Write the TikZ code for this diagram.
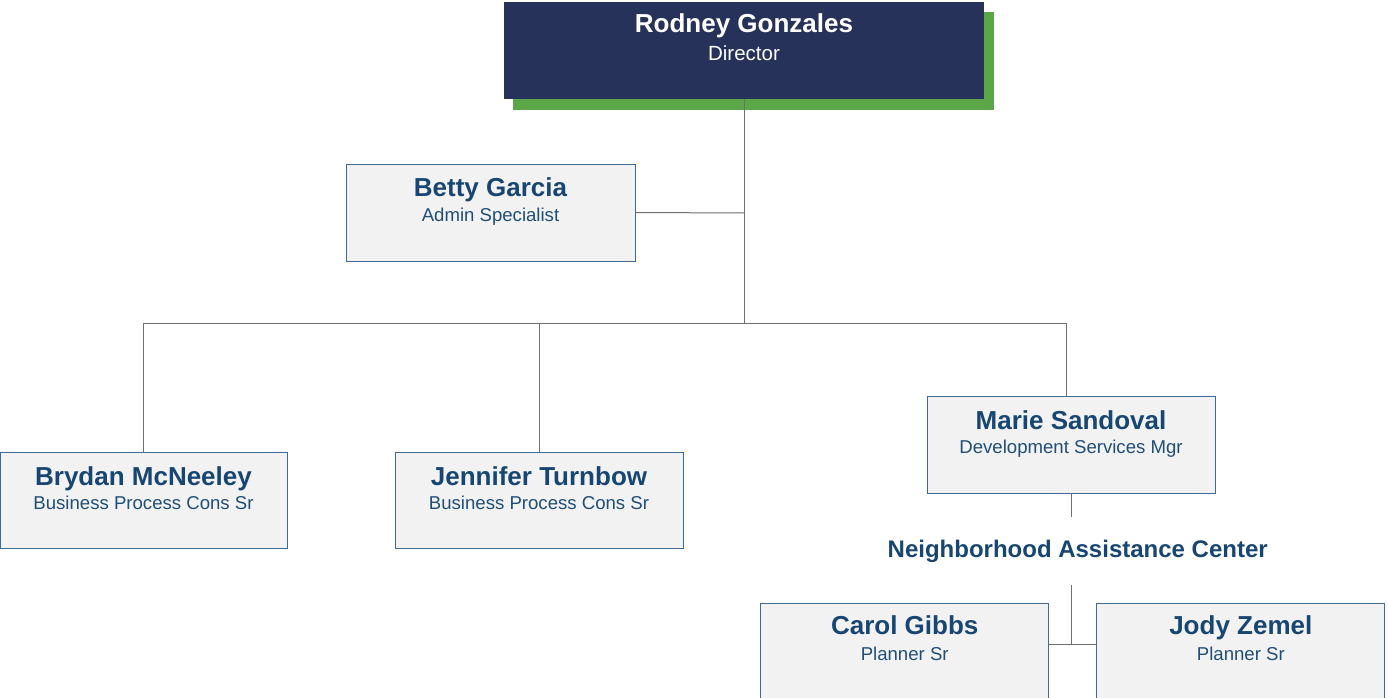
\documentclass[tikz,border=0pt]{standalone}
\usepackage{fontspec}
\setmainfont{Liberation Sans}
\definecolor{navy}{RGB}{39,50,90}
\definecolor{grn}{RGB}{91,166,70}
\definecolor{boxline}{RGB}{65,105,150}
\definecolor{boxfill}{RGB}{242,242,242}
\definecolor{nametxt}{RGB}{23,70,115}
\definecolor{subtxt}{RGB}{31,78,121}
\definecolor{conn}{RGB}{110,110,110}
\begin{document}
\begin{tikzpicture}[x=1pt,y=-1pt,
  card/.style={draw=boxline, fill=boxfill, line width=1pt, minimum width=288pt, minimum height=96pt, inner sep=0pt, outer sep=0pt},
  nm/.style={anchor=base, font=\fontsize{26}{28}\selectfont\bfseries, text=nametxt, inner sep=0pt},
  ttl/.style={anchor=base, font=\fontsize{18.6}{20}\selectfont, text=subtxt, inner sep=0pt},
  link/.style={draw=conn, line width=1pt}]
\useasboundingbox (0,0) rectangle (1388,698);
% top box
\node[fill=grn, minimum width=481pt, minimum height=98pt, inner sep=0pt] (shadow) at (753.5,61) {};
\node[fill=navy, minimum width=480pt, minimum height=97pt, inner sep=0pt] (rodney) at (744,50.5) {};
\node[nm, text=white] (rodneyN) at ([yshift=-31pt]rodney.north) {Rodney Gonzales};
\node[ttl, text=white, font=\fontsize{20.5}{22}\selectfont] (rodneyT) at ([yshift=-59pt]rodney.north) {Director};
% cards
\node[card, minimum width=289pt, minimum height=97pt] (betty) at (490.5,212.5) {};
\node[card, minimum width=287pt] (brydan) at (143.5,500.5) {};
\node[card] (jennifer) at (539,500) {};
\node[card, minimum height=97pt] (marie) at (1071,444.5) {};
\node[card] (carol) at (904.7,651) {};
\node[card] (jody) at (1240.8,651) {};
\node[nm] (bettyN) at ([yshift=-32.5pt]betty.north) {Betty Garcia};
\node[ttl] (bettyT) at ([yshift=-57.5pt]betty.north) {Admin Specialist};
\node[nm] (brydanN) at ([yshift=-33pt]brydan.north) {Brydan McNeeley};
\node[ttl] (brydanT) at ([yshift=-57pt]brydan.north) {Business Process Cons Sr};
\node[nm] (jenniferN) at ([yshift=-33pt]jennifer.north) {Jennifer Turnbow};
\node[ttl] (jenniferT) at ([yshift=-57pt]jennifer.north) {Business Process Cons Sr};
\node[nm] (marieN) at ([yshift=-33pt]marie.north) {Marie Sandoval};
\node[ttl] (marieT) at ([yshift=-57pt]marie.north) {Development Services Mgr};
\node[nm] (carolN) at ([yshift=-31.5pt]carol.north) {Carol Gibbs};
\node[ttl] (carolT) at ([yshift=-57pt]carol.north) {Planner Sr};
\node[nm] (jodyN) at ([yshift=-31.5pt]jody.north) {Jody Zemel};
\node[ttl] (jodyT) at ([yshift=-57pt]jody.north) {Planner Sr};
% group label
\node[nm, font=\fontsize{24}{26}\selectfont\bfseries] (nac) at (1077.7,557) {Neighborhood Assistance Center};
% connectors
\coordinate (j0) at (744,213);
\coordinate (bus) at (744,323);
\coordinate (busL) at (143.5,323);
\coordinate (busR) at (1066,323);
\coordinate (m1) at (1071,517);
\coordinate (n1) at (1071,585);
\coordinate (br) at (1071,644);
\draw[link] (rodney.south) -- (bus);
\draw[link] (betty.east) -- (j0);
\draw[link] (busL) -- (busR);
\draw[link] (busL) -- (brydan.north);
\draw[link] (jennifer.north |- bus) -- (jennifer.north);
\draw[link] (busR) -- (busR |- marie.north);
\draw[link] (marie.south) -- (m1);
\draw[link] (n1) -- (br);
\draw[link] (carol.east |- br) -- (jody.west |- br);
\end{tikzpicture}
\end{document}
